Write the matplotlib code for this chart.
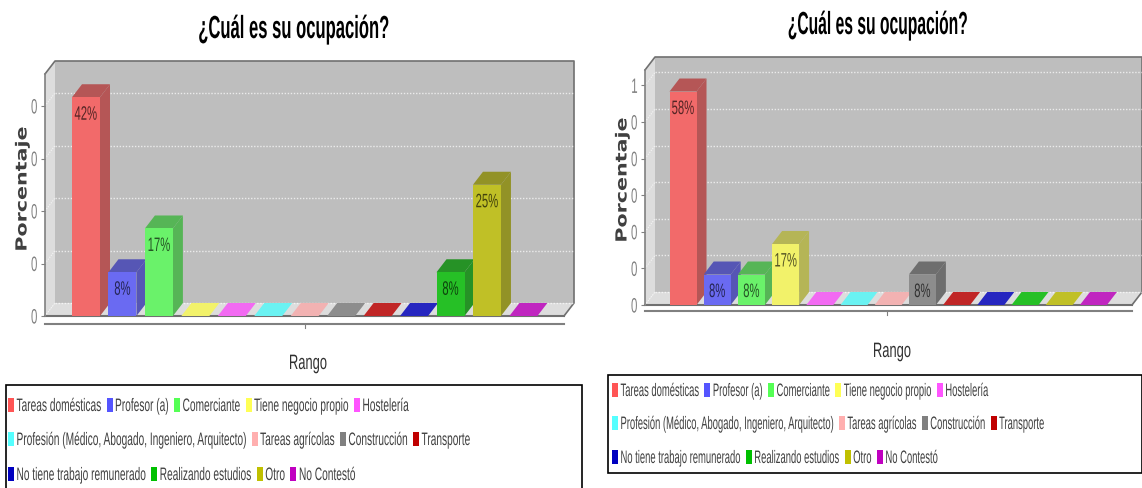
import matplotlib
matplotlib.use('Agg')
import matplotlib.pyplot as plt
from matplotlib.colors import to_rgb
from matplotlib.lines import Line2D
from matplotlib.patches import Polygon, Rectangle
from matplotlib.patheffects import AbstractPathEffect
from matplotlib.transforms import Affine2D

W, H = 1142, 489
SANS = ['Liberation Sans', 'DejaVu Sans']

categories = ['Tareas domésticas', 'Profesor (a)', 'Comerciante', 'Tiene negocio propio', 'Hostelería',
              'Profesión (Médico, Abogado, Ingeniero, Arquitecto)', 'Tareas agrícolas', 'Construcción', 'Transporte',
              'No tiene trabajo remunerado', 'Realizando estudios', 'Otro', 'No Contestó']
colors = ['#FF5555', '#5555FF', '#55FF55', '#FFFF55', '#FF55FF', '#55FFFF', '#FFAFAF',
          '#808080', '#C00000', '#0000C0', '#00C000', '#C0C000', '#C000C0']
legend_rows = [5, 4, 4]

values_left = [41.67, 8.33, 16.67, 0, 0, 0, 0, 0, 0, 0, 8.33, 25, 0]
ticks_left = [0, 10, 20, 30, 40]
tick_labels_left = ['0', '0', '0', '0', '0']

values_right = [58.33, 8.33, 8.33, 16.67, 0, 0, 0, 8.33, 0, 0, 0, 0, 0]
ticks_right = [0, 10, 20, 30, 40, 50, 60]
tick_labels_right = ['0', '0', '0', '0', '0', '0', '1']

fig = plt.figure(figsize=(W / 100, H / 100), dpi=100)


# the original font is condensed, none is installed, so squeeze the glyphs
class Squeeze(AbstractPathEffect):
    def __init__(self, k, anchor='center'):
        super().__init__()
        self.k = k
        self.anchor = anchor

    def draw_path(self, renderer, gc, tpath, affine, rgbFace=None):
        ext = tpath.get_extents()
        cx = (ext.x0 + ext.x1) / 2 if self.anchor == 'center' else 0
        squeezed = Affine2D().translate(-cx, 0).scale(self.k, 1).translate(cx, 0) + affine
        renderer.draw_path(gc, tpath, squeezed, rgbFace)


def fx(px):
    return px / W


def fy(py):
    return 1 - py / H


# bars are see-through on the gray wall in the original
def blend(color, k=1.0):
    return tuple(0.8 * c * k + 0.2 * 0.753 for c in to_rgb(color))


# one chart, left/right/top/base are the front plane in pixels
def draw_chart(values, ticks, tick_labels, left, right, top, base, y_scale, first, step, bar_w):
    ax = fig.add_axes([fx(left), fy(base), fx(right - left), (base - top) / H])
    ax.set_xlim((left - first) / step, (right - first) / step)
    ax.set_ylim(0, (base - top) / y_scale)
    x0, x1 = ax.get_xlim()
    y1 = ax.get_ylim()[1]
    dx = 10 / step
    dy = 13 / y_scale

    ax.patch.set_visible(False)
    for name in ['top', 'right', 'bottom']:
        ax.spines[name].set_visible(False)
    ax.spines['left'].set_color('#808080')
    ax.spines['left'].set_linewidth(1.2)

    # walls and floor
    ax.add_patch(Polygon([(x0 + dx, dy), (x1 + dx, dy), (x1 + dx, y1 + dy), (x0 + dx, y1 + dy)],
                         fc='#BEBEBE', ec='none', clip_on=False, zorder=1))
    ax.add_patch(Polygon([(x0, 0), (x0 + dx, dy), (x0 + dx, y1 + dy), (x0, y1)],
                         fc='#DDDDDD', ec='none', clip_on=False, zorder=1))
    ax.add_patch(Polygon([(x0, 0), (x1, 0), (x1 + dx, dy), (x0 + dx, dy)],
                         fc='#DDDDDD', ec='none', clip_on=False, zorder=1))
    ax.plot([x0, x0 + dx, x1 + dx, x1 + dx, x1], [y1, y1 + dy, y1 + dy, dy, 0],
            color='#707070', lw=1.2, clip_on=False, zorder=2)
    ax.plot([x0, x1], [0, 0], color='#707070', lw=1.5, clip_on=False, zorder=2)

    for t in ticks:
        ax.plot([x0 + dx, x1 + dx], [t + dy, t + dy], color='white', lw=1, ls=(0, (1, 1.2)),
                alpha=0.7, clip_on=False, zorder=2)
        ax.plot([x0, x0 + dx], [t, t + dy], color='white', lw=0.8, ls=(0, (1, 1.2)),
                alpha=0.7, clip_on=False, zorder=2)

    half = bar_w / step / 2
    for i, v in enumerate(values):
        c = colors[i]
        a, b = i - half, i + half
        cap = blend(c, 0.7) if v > 0 else blend(c)
        ax.add_patch(Polygon([(a, v), (b, v), (b + dx, v + dy), (a + dx, v + dy)],
                             fc=cap, ec='none', clip_on=False, zorder=3))
        if v > 0:
            ax.add_patch(Polygon([(b, 0), (b + dx, dy), (b + dx, v + dy), (b, v)],
                                 fc=blend(c, 0.7), ec='none', clip_on=False, zorder=3))
            ax.bar(i, v, width=bar_w / step, color=blend(c), zorder=4)
            label = ax.annotate(f'{v:.0f}%', (i, v), xytext=(0, -18 * 0.72), textcoords='offset points',
                                ha='center', va='center', family=SANS, fontsize=14, color='black',
                                alpha=0.65, zorder=5)
            label.set_path_effects([Squeeze(0.58)])

    ax.set_xticks([])
    ax.set_yticks(ticks)
    ax.set_yticklabels(tick_labels, family=SANS, fontsize=15, color='#808080')
    for label in ax.get_yticklabels():
        label.set_path_effects([Squeeze(0.55)])
    ax.tick_params(axis='y', length=3, color='#808080', pad=0.5)
    return ax


def draw_legend(box, rows_y, squeeze, marker_x):
    bx0, by0, bx1, by1 = box
    fig.add_artist(Rectangle((fx(bx0), fy(by1)), fx(bx1 - bx0), (by1 - by0) / H,
                             transform=fig.transFigure, fc='white', ec='black', lw=1.2))
    renderer = fig.canvas.get_renderer()
    idx = 0
    for row, ypix in zip(legend_rows, rows_y):
        x = marker_x
        for _ in range(row):
            fig.add_artist(Rectangle((fx(x), fy(ypix + 7)), fx(6), 14 / H,
                                     transform=fig.transFigure, fc=colors[idx], ec='none'))
            start = x + 8.5
            t = fig.text(fx(start), fy(ypix + 1.5), categories[idx], family=SANS, fontsize=13,
                         color='#404040', va='center', ha='left')
            t.set_path_effects([Squeeze(squeeze, anchor='left')])
            width = t.get_window_extent(renderer).width * squeeze
            x = start + width + 5.5
            idx += 1


def extras(title, title_x, title_y, title_k, rango_x, rango_y, ylab_x, ylab_y, line_x0, line_x1, line_y, tick_x):
    t = fig.text(fx(title_x), fy(title_y), title, family=SANS, fontweight='bold', fontsize=23,
                 ha='center', va='center', color='black')
    t.set_path_effects([Squeeze(title_k)])
    r = fig.text(fx(rango_x), fy(rango_y), 'Rango', family=SANS, fontsize=15, ha='center', va='center',
                 color='#303030')
    r.set_path_effects([Squeeze(0.62)])
    y = fig.text(fx(ylab_x), fy(ylab_y), 'Porcentaje', family='DejaVu Sans', fontweight='bold', fontsize=11,
                 rotation=90, ha='center', va='center', color='#404040')
    y.set_path_effects([Squeeze(1.35)])
    fig.add_artist(Line2D([fx(line_x0), fx(line_x1)], [fy(line_y), fy(line_y)], color='#808080', lw=1.5))
    fig.add_artist(Line2D([fx(tick_x), fx(tick_x)], [fy(line_y), fy(line_y + 4)], color='#808080', lw=0.8))


draw_chart(values_left, ticks_left, tick_labels_left, 45, 564, 75, 317, 5.25, 86, 36.45, 28)
draw_chart(values_right, ticks_right, tick_labels_right, 645, 1132, 71, 306, 3.66, 683, 34.2, 27)

extras('¿Cuál es su ocupación?', 294, 31, 0.52, 308, 364.5, 22, 190, 45, 564, 325, 305)
extras('¿Cuál es su ocupación?', 878, 27, 0.49, 892, 352.5, 622, 181, 645, 1132, 312, 887)

draw_legend((6, 386, 582, 495), [406, 440, 475], 0.563, 8)
draw_legend((608, 376, 1142, 474), [391, 424, 458], 0.522, 612)

fig.savefig('out.png', dpi=100)
